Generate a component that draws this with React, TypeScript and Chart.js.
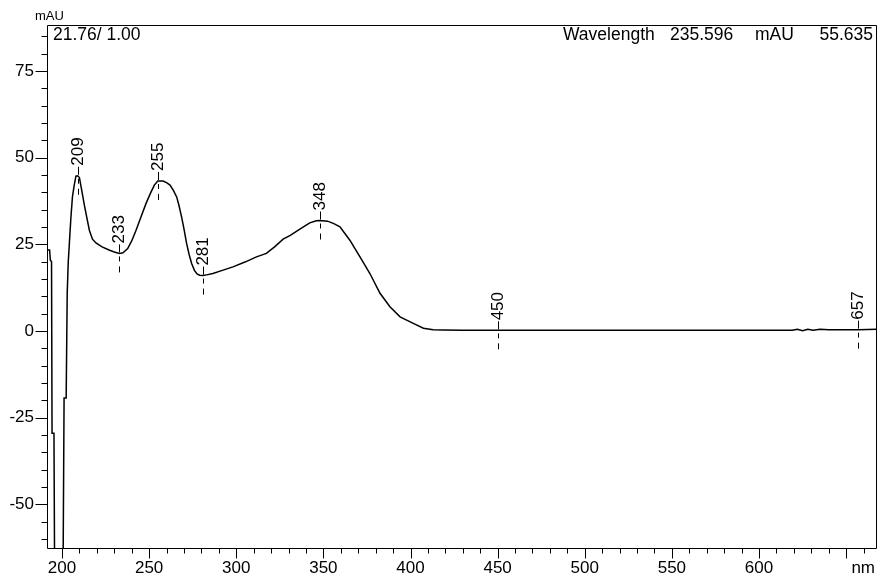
import React, { useEffect, useRef } from 'react';
import { Chart, registerables } from 'chart.js';

Chart.register(...registerables);

// Spectrum (nm, mAU)
const wavelengths = [
  191.4, 192.9, 193.3, 194.0, 194.3, 195.4, 195.7, 196.3, 200.4, 200.7,
  201.2, 202.4, 203.0, 203.6, 204.2, 205.1, 206.0, 207.0, 208.0, 209.0,
  210, 211, 213, 215.7, 217.5, 219.5, 223, 227, 230, 233,
  235, 237.7, 240, 242.5, 245, 248.3, 251, 253, 255, 258,
  260, 262, 264, 265.8, 267, 268.6, 270, 271.5, 273, 274.4,
  276, 277.5, 279, 281, 283, 286.6, 292, 298.1, 305, 311.6,
  317.3, 322, 326.9, 331, 336.5, 342.2, 346, 348, 352.4, 356,
  359.5, 365.2, 371, 376.7, 382.5, 388.2, 394, 401.6, 407.4, 413,
  418.9, 430, 450, 500, 550, 600, 619, 622, 625, 628,
  631, 635, 640, 657, 667.7,
];
const absorbance = [
  23.4, 23.4, 20.5, 20.0, -29.5, -29.5, -62, -80, -80, -62,
  -19.3, -19.3, 11, 20, 25, 32.6, 38.7, 42, 44.7, 44.8,
  44.3, 41.5, 35.9, 29.1, 26.5, 25.4, 24.3, 23.4, 22.8, 22.4,
  22.6, 23.8, 26.0, 29.1, 32.5, 36.9, 40.0, 42.1, 43.3, 43.3,
  42.8, 42.1, 40.5, 38.7, 36.5, 33.0, 29.5, 25.3, 22.0, 19.5,
  17.5, 16.5, 16.1, 16.0, 16.2, 16.6, 17.5, 18.5, 19.9, 21.4,
  22.4, 24.3, 26.5, 27.6, 29.4, 31.2, 31.8, 31.9, 31.7, 31.0,
  30.1, 26.2, 21.4, 16.6, 10.9, 7.0, 4.1, 2.2, 0.8, 0.4,
  0.3, 0.2, 0.2, 0.2, 0.2, 0.2, 0.2, 0.5, 0.1, 0.5,
  0.2, 0.5, 0.4, 0.4, 0.5,
];

// Peak / valley marks
const peakWavelengths = [209, 233, 255, 281, 348, 450, 657];
const peakValues = [44.8, 22.4, 43.3, 16.0, 31.9, 0.2, 0.4];

// Axes
const xMin = 191.4;
const xMax = 667.7;
const yMin = -62.6;
const yMax = 88.3;
const xTickLabels = [200, 250, 300, 350, 400, 450, 500, 550, 600];
const yTickLabels = [-50, -25, 0, 25, 50, 75];
const xMinorStep = 10;
const yMinorStep = 5;
const xUnit = 'nm';
const yUnit = 'mAU';
const headerLeft = '21.76/ 1.00';
const headerRight = ['Wavelength', '235.596', 'mAU', '55.635'];

const FONT = '"Liberation Sans", Arial, sans-serif';
const FS = 17;

const isMult = (v: number, m: number) => Math.abs(v - Math.round(v / m) * m) < 1e-6;

const stepTicks = (min: number, max: number, step: number) => {
  const out: { value: number }[] = [];
  for (let v = Math.ceil(min / step) * step; v <= max + 1e-9; v += step) out.push({ value: v });
  return out;
};

const overlay = {
  id: 'overlay',
  afterDraw(chart: any) {
    const { ctx, chartArea: a, scales } = chart;
    const x = scales.x;
    const y = scales.y;
    ctx.save();
    ctx.strokeStyle = '#000';
    ctx.fillStyle = '#000';
    ctx.lineWidth = 1;

    const L = Math.round(a.left) + 0.5;
    const R = Math.round(a.right) - 0.5;
    const T = Math.round(a.top) + 0.5;
    const B = Math.round(a.bottom) + 0.5;
    ctx.beginPath();
    ctx.moveTo(L, T); ctx.lineTo(R, T); ctx.lineTo(R, B); ctx.lineTo(L, B); ctx.closePath();
    ctx.stroke();

    // y ticks
    ctx.beginPath();
    y.ticks.forEach((t: any) => {
      const len = isMult(t.value, 25) ? 12 : 6;
      const py = Math.round(y.getPixelForValue(t.value)) + 0.5;
      ctx.moveTo(L - len, py); ctx.lineTo(L, py);
    });
    // x ticks
    x.ticks.forEach((t: any) => {
      const len = isMult(t.value, 50) ? 10 : 5;
      const px = Math.round(x.getPixelForValue(t.value)) + 0.5;
      ctx.moveTo(px, B); ctx.lineTo(px, B + len);
    });
    ctx.stroke();

    // unit labels
    ctx.font = `${FS}px ${FONT}`;
    ctx.textBaseline = 'middle';
    ctx.textAlign = 'right';
    ctx.fillText(xUnit, 875, a.bottom + 10 + (FS * 1.2) / 2);

    ctx.textBaseline = 'alphabetic';
    ctx.textAlign = 'left';
    ctx.font = `13px ${FONT}`;
    ctx.fillText(yUnit, 35, 19.5);

    ctx.font = `17.5px ${FONT}`;
    ctx.fillText(headerLeft, 53, 39.5);
    ctx.fillText(headerRight[0], 563, 39.5);
    ctx.fillText(headerRight[1], 670, 39.5);
    ctx.fillText(headerRight[2], 755, 39.5);
    ctx.textAlign = 'right';
    ctx.fillText(headerRight[3], 873, 39.5);

    // peak marks
    peakWavelengths.forEach((wl, i) => {
      const px = Math.round(x.getPixelForValue(wl)) + 0.5;
      const py = y.getPixelForValue(peakValues[i]);
      ctx.beginPath();
      const segs = [[-9, -1], [3, 8], [13, 19]];
      segs.forEach(([s, e]) => { ctx.moveTo(px, py + s); ctx.lineTo(px, py + e); });
      ctx.stroke();
      ctx.save();
      ctx.translate(px, py - 10);
      ctx.rotate(-Math.PI / 2);
      ctx.textAlign = 'left';
      ctx.textBaseline = 'middle';
      ctx.font = `${FS}px ${FONT}`;
      ctx.fillText(String(wl), 0, 0);
      ctx.restore();
    });

    ctx.restore();
  },
};

export default function App() {
  const ref = useRef<HTMLCanvasElement | null>(null);

  useEffect(() => {
    if (!ref.current) return;
    const points = wavelengths.map((w, i) => ({ x: w, y: absorbance[i] }));
    const chart = new Chart(ref.current, {
      type: 'scatter',
      data: {
        datasets: [
          {
            data: points,
            showLine: true,
            borderColor: '#000',
            borderWidth: 1.5,
            pointRadius: 0,
            tension: 0,
          },
        ],
      },
      options: {
        responsive: false,
        animation: false,
        devicePixelRatio: 1,
        layout: { padding: { top: 25, right: 0, left: 0, bottom: 0 } },
        plugins: { legend: { display: false }, tooltip: { enabled: false } },
        scales: {
          x: {
            type: 'linear',
            min: xMin,
            max: xMax,
            grid: { display: false, drawTicks: false },
            border: { display: false },
            afterBuildTicks: (s: any) => { s.ticks = stepTicks(xMin, xMax, xMinorStep); },
            afterFit: (s: any) => { s.height = 40; s.paddingLeft = 0; s.paddingRight = 0; },
            ticks: {
              autoSkip: false,
              maxRotation: 0,
              padding: 10,
              color: '#000',
              font: { family: FONT, size: FS },
              callback: (v: any) => (xTickLabels.includes(Number(v)) ? String(v) : ''),
            },
          },
          y: {
            type: 'linear',
            min: yMin,
            max: yMax,
            grid: { display: false, drawTicks: false },
            border: { display: false },
            afterBuildTicks: (s: any) => { s.ticks = stepTicks(yMin, yMax, yMinorStep); },
            afterFit: (s: any) => { s.width = 47; s.paddingTop = 0; s.paddingBottom = 0; },
            ticks: {
              autoSkip: false,
              padding: 13,
              color: '#000',
              font: { family: FONT, size: FS },
              callback: (v: any) => (yTickLabels.includes(Number(v)) ? String(v) : ''),
            },
          },
        },
      },
      plugins: [overlay],
    });
    return () => chart.destroy();
  }, []);

  return (
    <div style={{ position: 'fixed', left: 0, top: 0, width: 877, height: 588, background: '#fff' }}>
      <canvas ref={ref} width={877} height={588} style={{ display: 'block' }} />
    </div>
  );
}
